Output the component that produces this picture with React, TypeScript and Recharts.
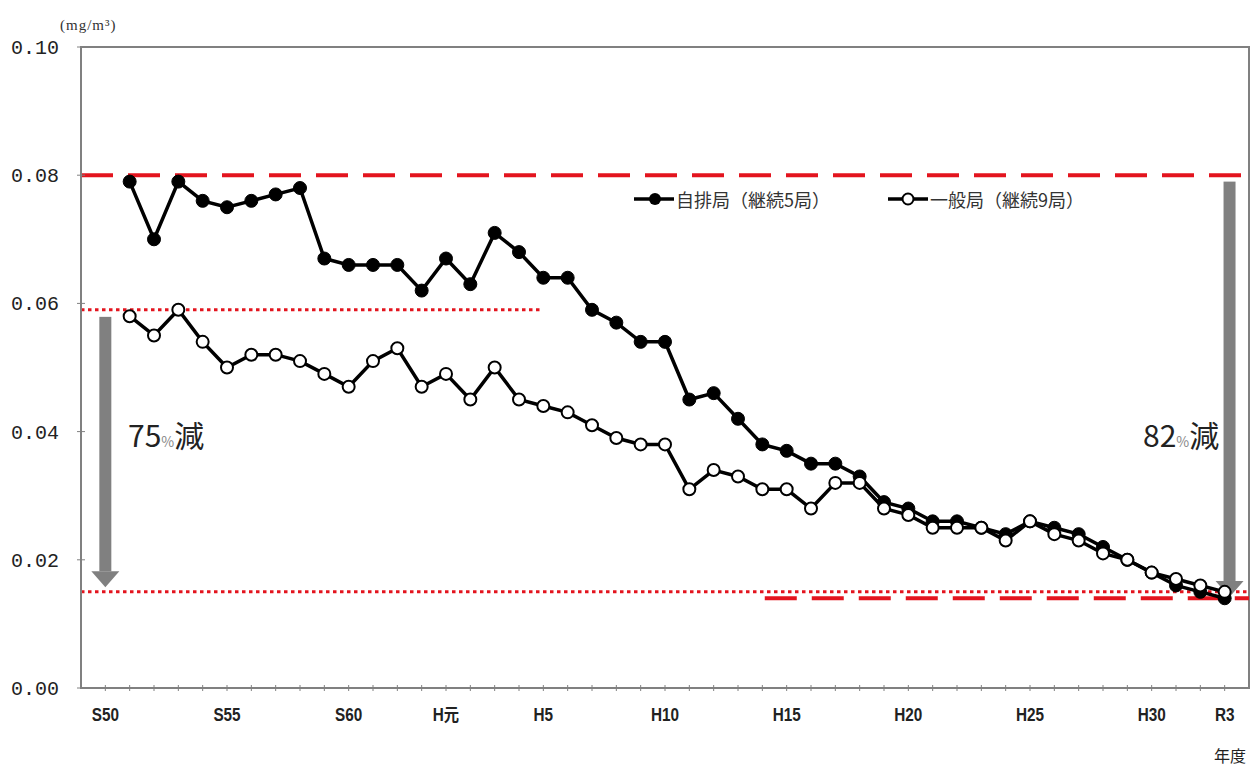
import React from 'react';
import { LineChart, Line, XAxis, YAxis, ReferenceLine, ReferenceArea } from 'recharts';

// fiscal years (S51 .. R3)
const years = [
  1976, 1977, 1978, 1979, 1980, 1981, 1982, 1983, 1984, 1985,
  1986, 1987, 1988, 1989, 1990, 1991, 1992, 1993, 1994, 1995,
  1996, 1997, 1998, 1999, 2000, 2001, 2002, 2003, 2004, 2005,
  2006, 2007, 2008, 2009, 2010, 2011, 2012, 2013, 2014, 2015,
  2016, 2017, 2018, 2019, 2020, 2021,
];

// 自排局 (継続5局)
const jihaiValues = [
  0.079, 0.070, 0.079, 0.076, 0.075, 0.076, 0.077, 0.078, 0.067, 0.066,
  0.066, 0.066, 0.062, 0.067, 0.063, 0.071, 0.068, 0.064, 0.064, 0.059,
  0.057, 0.054, 0.054, 0.045, 0.046, 0.042, 0.038, 0.037, 0.035, 0.035,
  0.033, 0.029, 0.028, 0.026, 0.026, 0.025, 0.024, 0.026, 0.025, 0.024,
  0.022, 0.020, 0.018, 0.016, 0.015, 0.014,
];

// 一般局 (継続9局)
const ippanValues = [
  0.058, 0.055, 0.059, 0.054, 0.050, 0.052, 0.052, 0.051, 0.049, 0.047,
  0.051, 0.053, 0.047, 0.049, 0.045, 0.050, 0.045, 0.044, 0.043, 0.041,
  0.039, 0.038, 0.038, 0.031, 0.034, 0.033, 0.031, 0.031, 0.028, 0.032,
  0.032, 0.028, 0.027, 0.025, 0.025, 0.025, 0.023, 0.026, 0.024, 0.023,
  0.021, 0.020, 0.018, 0.017, 0.016, 0.015,
];

const yTicks = [0, 0.02, 0.04, 0.06, 0.08, 0.1];
const tickYears = [
  1975, 1976, 1977, 1978, 1979, 1980, 1981, 1982, 1983, 1984, 1985, 1986,
  1987, 1988, 1989, 1990, 1991, 1992, 1993, 1994, 1995, 1996, 1997, 1998,
  1999, 2000, 2001, 2002, 2003, 2004, 2005, 2006, 2007, 2008, 2009, 2010,
  2011, 2012, 2013, 2014, 2015, 2016, 2017, 2018, 2019, 2020, 2021,
];
const labelYears = [1975, 1980, 1985, 1989, 1993, 1998, 2003, 2008, 2013, 2018, 2021];
const labelNames = ['S50', 'S55', 'S60', 'H元', 'H5', 'H10', 'H15', 'H20', 'H25', 'H30', 'R3'];

const data = years.map((year, i) => ({ year, jihai: jihaiValues[i], ippan: ippanValues[i] }));

const RED = '#e3141e';
const GRAY = '#808080';
const SANS = '"Liberation Sans", "Noto Sans CJK JP", sans-serif';
const CJK = '"Noto Sans CJK JP", sans-serif';

const XTick = (props: any) => {
  const { x, y, payload } = props;
  const idx = labelYears.indexOf(payload.value);
  return (
    <g>
      <line x1={x} x2={x} y1={y - 3} y2={y + 3} stroke={GRAY} strokeWidth={1} />
      {idx >= 0 && (
        <text
          x={x}
          y={y + 33}
          textAnchor="middle"
          fontSize={18}
          fontWeight={600}
          fill="#222"
          fontFamily={SANS}
          transform={`translate(${x} 0) scale(0.85 1) translate(${-x} 0)`}
        >
          {labelNames[idx]}
        </text>
      )}
    </g>
  );
};

const YTick = (props: any) => {
  const { x, y, payload } = props;
  return (
    <g>
      <line x1={x - 4} x2={x + 4} y1={y} y2={y} stroke={GRAY} strokeWidth={1} />
      <text x={x - 22} y={y + 7} textAnchor="end" fontSize={20} fill="#222" fontFamily='"Liberation Mono", monospace'>
        {Number(payload.value).toFixed(2)}
      </text>
    </g>
  );
};

const Arrow = (props: any) => {
  const { x1, y1, y2 } = props;
  const head = 16;
  const shaft = 12;
  const headW = 28;
  return (
    <g>
      <rect x={x1 - shaft / 2} y={y1} width={shaft} height={y2 - head - y1} fill={GRAY} />
      <polygon points={`${x1 - headW / 2},${y2 - head} ${x1 + headW / 2},${y2 - head} ${x1},${y2}`} fill={GRAY} />
    </g>
  );
};

const LegendBox = () => (
  <div style={{ position: 'absolute', left: 634, top: 186, display: 'flex', alignItems: 'center', fontFamily: CJK, fontSize: 18, color: '#333', whiteSpace: 'nowrap' }}>
    <svg width={40} height={16}>
      <line x1={0} x2={40} y1={8} y2={8} stroke="#000" strokeWidth={3.5} />
      <circle cx={21} cy={8} r={6} fill="#000" />
    </svg>
    <span style={{ marginLeft: 2 }}>自排局（継続5局）</span>
    <svg width={40} height={16} style={{ marginLeft: 58 }}>
      <line x1={0} x2={40} y1={8} y2={8} stroke="#000" strokeWidth={3.5} />
      <circle cx={20} cy={8} r={5.5} fill="#fff" stroke="#000" strokeWidth={2} />
    </svg>
    <span style={{ marginLeft: 2 }}>一般局（継続9局）</span>
  </div>
);

const pctStyle: React.CSSProperties = { fontSize: 14, color: '#888' };
const bigText: React.CSSProperties = {
  position: 'absolute',
  fontSize: 30,
  lineHeight: '40px',
  fontFamily: CJK,
  color: '#222',
  whiteSpace: 'nowrap',
};

export default function App() {
  return (
    <div style={{ position: 'relative', width: 1256, height: 769, background: '#fff', overflow: 'hidden' }}>
      <style>{'body{margin:0}'}</style>
      <LineChart width={1256} height={769} data={data} margin={{ top: 47, right: 7, bottom: 51, left: 11 }}>
        <XAxis
          dataKey="year"
          type="number"
          domain={[1974, 2022]}
          ticks={tickYears}
          interval={0}
          tickSize={0}
          tickMargin={0}
          tick={<XTick />}
          axisLine={{ stroke: GRAY, strokeWidth: 2 }}
          height={30}
          allowDataOverflow
        />
        <YAxis
          type="number"
          domain={[0, 0.1]}
          ticks={yTicks}
          width={70}
          tickSize={0}
          tickMargin={0}
          tick={<YTick />}
          axisLine={{ stroke: GRAY, strokeWidth: 2 }}
          allowDataOverflow
        />
        <ReferenceArea x1={1974} x2={2022} y1={0} y2={0.1} fill="none" stroke={GRAY} strokeWidth={2} fillOpacity={0} />
        <ReferenceLine y={0.08} stroke={RED} strokeWidth={4} strokeDasharray="32 15" />
        <ReferenceLine segment={[{ x: 1974, y: 0.059 }, { x: 1992.9, y: 0.059 }]} stroke={RED} strokeWidth={3} strokeDasharray="3.5 3.5" />
        <ReferenceLine y={0.015} stroke={RED} strokeWidth={3} strokeDasharray="3.5 3.5" />
        <ReferenceLine segment={[{ x: 2002.1, y: 0.014 }, { x: 2022, y: 0.014 }]} stroke={RED} strokeWidth={4} strokeDasharray="32 15" />
        <ReferenceLine segment={[{ x: 1975, y: 0.0579 }, { x: 1975, y: 0.0157 }]} shape={<Arrow />} />
        <ReferenceLine segment={[{ x: 2021.2, y: 0.079 }, { x: 2021.2, y: 0.0142 }]} shape={<Arrow />} />
        <Line
          type="linear"
          dataKey="jihai"
          name="自排局（継続5局）"
          stroke="#000"
          strokeWidth={3.5}
          dot={{ r: 6.5, fill: '#000', stroke: '#000', strokeWidth: 1 }}
          isAnimationActive={false}
        />
        <Line
          type="linear"
          dataKey="ippan"
          name="一般局（継続9局）"
          stroke="#000"
          strokeWidth={3.5}
          dot={{ r: 6, fill: '#fff', stroke: '#000', strokeWidth: 2 }}
          isAnimationActive={false}
        />
      </LineChart>
      <LegendBox />
      <div style={{ position: 'absolute', left: 60, top: 17, fontSize: 15, letterSpacing: 1, fontFamily: '"Liberation Serif", serif', color: '#333' }}>
        (mg/m³)
      </div>
      <div style={{ ...bigText, left: 128, top: 414 }}>
        75<span style={pctStyle}>%</span>減
      </div>
      <div style={{ ...bigText, left: 1143, top: 414 }}>
        82<span style={pctStyle}>%</span>減
      </div>
      <div style={{ position: 'absolute', left: 1214, top: 745, fontSize: 16, lineHeight: '20px', fontFamily: CJK, color: '#222' }}>年度</div>
    </div>
  );
}
